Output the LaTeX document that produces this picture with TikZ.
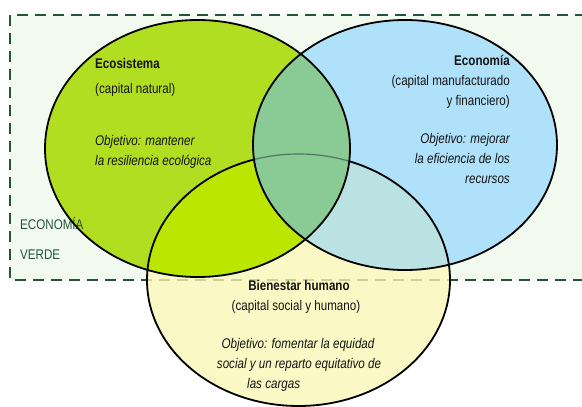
\documentclass[tikz,border=0pt]{standalone}
\usepackage{fontspec}
\setmainfont{Liberation Sans}[FakeStretch=0.83]
\usepackage{xcolor}

\definecolor{ecogreen}{RGB}{178,222,34}
\definecolor{econblue}{RGB}{175,226,250}
\definecolor{bienyellow}{RGB}{250,248,196}
\definecolor{greenyellow}{RGB}{186,230,0}
\definecolor{blueyellow}{RGB}{186,226,226}
\definecolor{greenblue}{RGB}{138,202,148}
\definecolor{verdebg}{RGB}{242,250,240}
\definecolor{verdedash}{RGB}{35,85,55}
\definecolor{verdefade}{RGB}{200,212,150}
\definecolor{inktext}{RGB}{20,20,20}

% the three circles of the diagram (pixel units, y going down)
\newcommand{\ecoshape}{(197.5,148.5) ellipse [x radius=152.5, y radius=128.5]}
\newcommand{\econshape}{(405,145) ellipse [x radius=152, y radius=125]}
\newcommand{\bienshape}{(298.5,280) ellipse [x radius=151.5, y radius=126]}

\begin{document}
\begin{tikzpicture}[x=1pt,y=-1pt]
  \tikzstyle{outline}=[draw=black,line width=1.8pt]
  \tikzstyle{frame}=[line width=2.4pt,dash pattern=on 11pt off 7pt]
  \tikzstyle{venntext}=[inner sep=0pt,text=inktext,font=\fontsize{14}{20}\selectfont]

  \clip (0,0) rectangle (582,407);

  % green economy frame
  \draw[frame,draw=verdedash,fill=verdebg] (10,15) rectangle (600,280);

  % fills
  \fill[bienyellow] \bienshape;
  \begin{scope}
    \clip \bienshape;
    \draw[frame,draw=verdefade] (10,15) rectangle (600,280);
  \end{scope}
  \fill[ecogreen] \ecoshape;
  \fill[econblue] \econshape;
  \begin{scope}
    \clip \ecoshape;
    \fill[greenyellow] \bienshape;
  \end{scope}
  \begin{scope}
    \clip \econshape;
    \fill[blueyellow] \bienshape;
  \end{scope}
  \draw[outline] \bienshape;
  \begin{scope}
    \clip \ecoshape;
    \clip \econshape;
    \fill[greenblue] \econshape;
    \draw[draw=verdedash!80,line width=1.2pt] \bienshape;
  \end{scope}

  % Ecosistema
  \node[venntext,anchor=west] (E1) at (95,63) {\textbf{Ecosistema}};
  \node[venntext,anchor=west] (E2) at (95,90) {(capital natural)};
  \node[venntext,anchor=west,align=left] (E3) at (95,152)
    {\itshape Objetivo: mantener\\\itshape la resiliencia ecológica};

  % Economia
  \node[venntext,anchor=east] (C1) at (510,60) {\textbf{Economía}};
  \node[venntext,anchor=east,align=right] (C2) at (510,92)
    {(capital manufacturado\\y financiero)};
  \node[venntext,anchor=east,align=right] (C3) at (510,158)
    {\itshape Objetivo: mejorar\\\itshape la eficiencia de los\\\itshape recursos};

  % Bienestar humano
  \node[venntext] (B1) at (299,285) {\textbf{Bienestar humano}};
  \node[venntext] (B2) at (296,307) {(capital social y humano)};
  \node[venntext] (B3) at (298,345) {\itshape Objetivo: fomentar la equidad};
  \node[venntext] (B4) at (299,365) {\itshape social y un reparto equitativo de};
  \node[venntext,anchor=west] (B5) at (247,385) {\itshape las cargas};

  % frame label
  \node[venntext,anchor=west,text=verdedash] (V1) at (20,223) {ECONOMÍA};
  \node[venntext,anchor=west,text=verdedash] (V2) at (20,255) {VERDE};

  \draw[outline] \ecoshape;
  \draw[outline] \econshape;
\end{tikzpicture}
\end{document}
